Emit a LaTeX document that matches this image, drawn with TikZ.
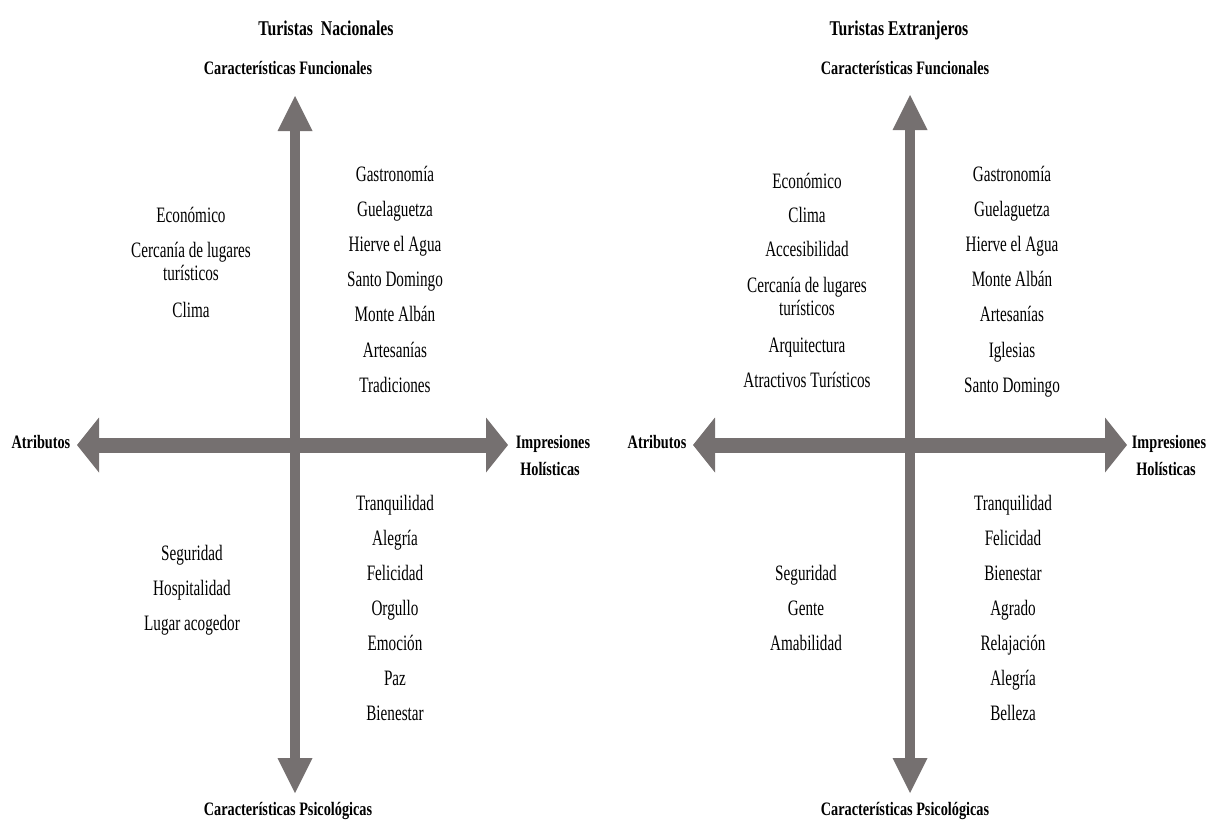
\documentclass[tikz,border=0pt]{standalone}
\usepackage{fontspec}
\usetikzlibrary{arrows.meta}
\newfontfamily\itemfont[FakeStretch=0.69]{Liberation Serif}
\newfontfamily\labfont[FakeStretch=0.75]{Liberation Serif}
\definecolor{axisgray}{RGB}{117,112,112}
\tikzset{
  item/.style={anchor=base, inner sep=0pt, font=\itemfont\fontsize{22}{26}\selectfont},
  lab/.style={anchor=base, inner sep=0pt, font=\labfont\bfseries\fontsize{19}{27}\selectfont},
  ttl/.style={anchor=base, inner sep=0pt, font=\labfont\bfseries\fontsize{21}{27}\selectfont},
  vaxis/.style={draw=axisgray, line width=10pt,
    {Triangle[length=35pt,width=35pt,line width=0pt]}-{Triangle[length=35pt,width=35pt,line width=0pt]}},
  haxis/.style={draw=axisgray, line width=15pt,
    {Triangle[length=22pt,width=55pt,line width=0pt]}-{Triangle[length=22pt,width=55pt,line width=0pt]}},
}
\begin{document}
\begin{tikzpicture}[x=1pt,y=-1pt]
\useasboundingbox (0,0) rectangle (1209,825);
% ---------- Left panel: Turistas Nacionales ----------
\coordinate (Ltop) at (295,96);
\coordinate (Lbot) at (295,793);
\coordinate (Lleft) at (77,445);
\coordinate (Lright) at (508,445);
\draw[vaxis] (Lbot) -- (Ltop);
\draw[haxis] (Lleft) -- (Lright);
\node[ttl] (ltitle) at (326,35) {Turistas\ \ Nacionales};
\node[lab] (lfun) at (288,74) {Características Funcionales};
\node[lab] (lpsi) at (288,815) {Características Psicológicas};
\node[lab] (latr) at (41,448) {Atributos};
\node[lab] (limp1) at (553,448) {Impresiones};
\node[lab] (limp2) at (550,475) {Holísticas};
\foreach \y/\t in {181/Gastronomía, 216/Guelaguetza, 251/Hierve el Agua, 286/Santo Domingo, 321/Monte Albán, 357/Artesanías, 392/Tradiciones}
  \node[item] (lur\y) at (395,\y) {\t};
\foreach \y/\t in {222/Económico, 257/Cercanía de lugares, 280/turísticos, 317/Clima}
  \node[item] (lul\y) at (191,\y) {\t};
\foreach \y/\t in {510/Tranquilidad, 545/Alegría, 580/Felicidad, 615/Orgullo, 650/Emoción, 685/Paz, 720/Bienestar}
  \node[item] (llr\y) at (395,\y) {\t};
\foreach \y/\t in {560/Seguridad, 595/Hospitalidad, 630/Lugar acogedor}
  \node[item] (lll\y) at (192,\y) {\t};
% ---------- Right panel: Turistas Extranjeros ----------
\coordinate (Rtop) at (910,95);
\coordinate (Rbot) at (910,793);
\coordinate (Rleft) at (693,445);
\coordinate (Rright) at (1127,445);
\draw[vaxis] (Rbot) -- (Rtop);
\draw[haxis] (Rleft) -- (Rright);
\node[ttl] (rtitle) at (899,35) {Turistas Extranjeros};
\node[lab] (rfun) at (905,74) {Características Funcionales};
\node[lab] (rpsi) at (905,815) {Características Psicológicas};
\node[lab] (ratr) at (657,448) {Atributos};
\node[lab] (rimp1) at (1169,448) {Impresiones};
\node[lab] (rimp2) at (1166,475) {Holísticas};
\foreach \y/\t in {188/Económico, 222/Clima, 256/Accesibilidad, 292/Cercanía de lugares, 315/turísticos, 352/Arquitectura, 387/Atractivos Turísticos}
  \node[item] (rul\y) at (807,\y) {\t};
\foreach \y/\t in {181/Gastronomía, 216/Guelaguetza, 251/Hierve el Agua, 286/Monte Albán, 321/Artesanías, 357/Iglesias, 392/Santo Domingo}
  \node[item] (rur\y) at (1012,\y) {\t};
\foreach \y/\t in {510/Tranquilidad, 545/Felicidad, 580/Bienestar, 615/Agrado, 650/Relajación, 685/Alegría, 720/Belleza}
  \node[item] (rlr\y) at (1013,\y) {\t};
\foreach \y/\t in {580/Seguridad, 615/Gente, 650/Amabilidad}
  \node[item] (rll\y) at (806,\y) {\t};
\end{tikzpicture}
\end{document}
